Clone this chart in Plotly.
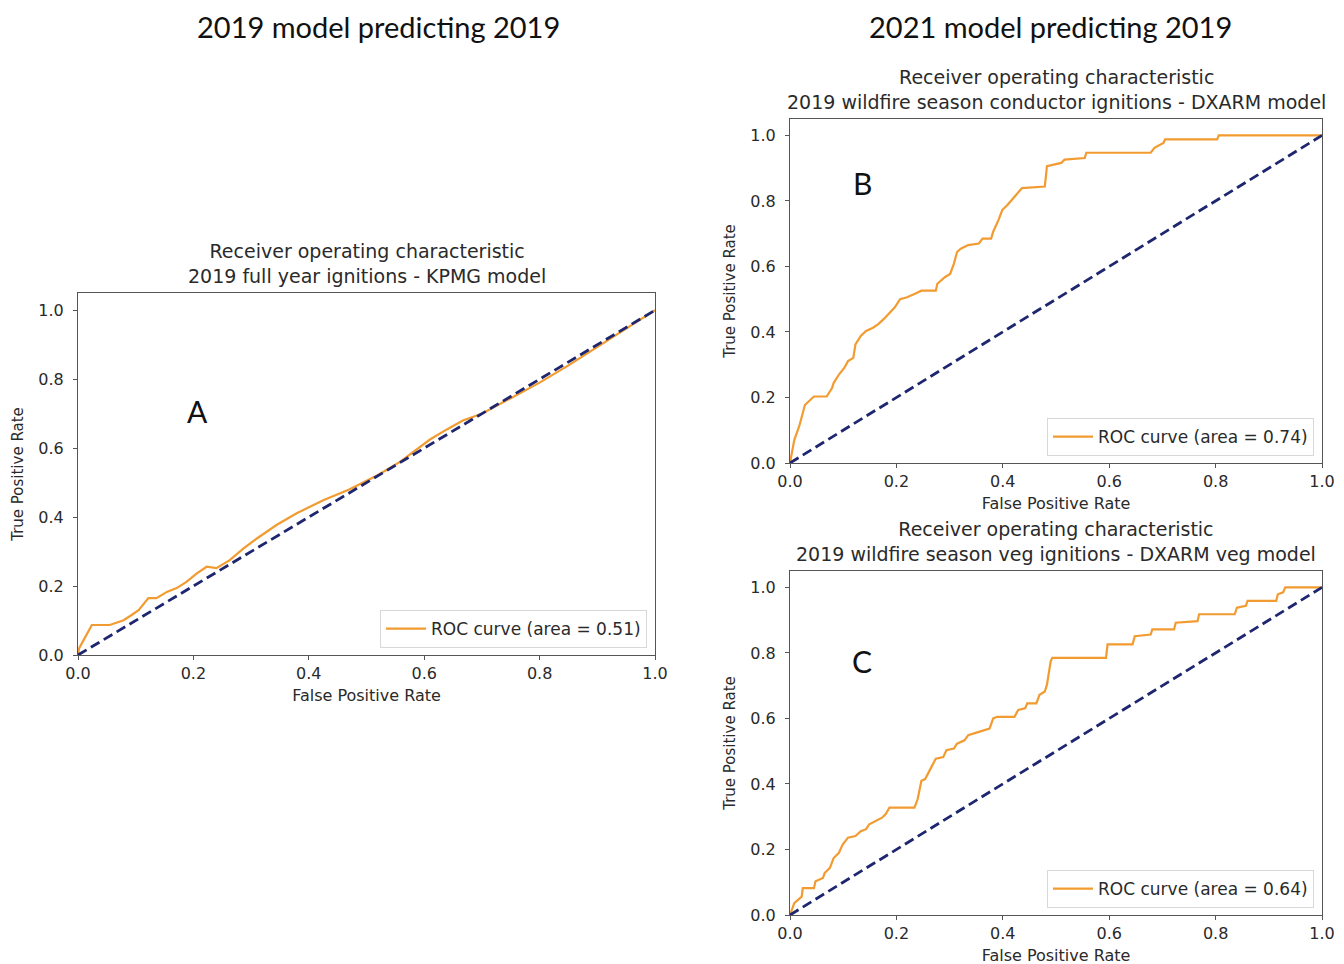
import plotly.graph_objects as go

# ---------------- data ----------------
fpr_a = [0.0, 0.002, 0.009, 0.024, 0.055, 0.079, 0.093, 0.105, 0.122, 0.136, 0.154, 0.171,
         0.188, 0.206, 0.223, 0.240, 0.263, 0.287, 0.310, 0.344, 0.379, 0.425, 0.470, 0.520,
         0.558, 0.610, 0.640, 0.667, 0.700, 0.760, 0.800, 0.850, 0.930, 1.0]
tpr_a = [0.0, 0.020, 0.041, 0.087, 0.087, 0.101, 0.116, 0.130, 0.165, 0.165, 0.183, 0.194,
         0.212, 0.237, 0.256, 0.252, 0.275, 0.309, 0.338, 0.377, 0.411, 0.449, 0.480, 0.522,
         0.560, 0.625, 0.655, 0.680, 0.700, 0.755, 0.790, 0.840, 0.925, 1.0]

fpr_b = [0.0, 0.008, 0.018, 0.028, 0.032, 0.045, 0.069, 0.079, 0.082, 0.092, 0.102, 0.109,
         0.119, 0.123, 0.133, 0.143, 0.156, 0.166, 0.176, 0.187, 0.197, 0.207, 0.220, 0.234,
         0.247, 0.274, 0.277, 0.291, 0.301, 0.308, 0.314, 0.321, 0.335, 0.355, 0.362, 0.378,
         0.382, 0.392, 0.399, 0.409, 0.419, 0.436, 0.479, 0.483, 0.510, 0.516, 0.554, 0.557,
         0.678, 0.685, 0.702, 0.705, 0.803, 0.806, 1.0]
tpr_b = [0.0, 0.070, 0.116, 0.177, 0.183, 0.203, 0.203, 0.229, 0.244, 0.270, 0.290, 0.311,
         0.321, 0.362, 0.388, 0.403, 0.413, 0.424, 0.439, 0.459, 0.475, 0.500, 0.506, 0.516,
         0.526, 0.526, 0.547, 0.567, 0.577, 0.608, 0.644, 0.654, 0.665, 0.670, 0.685, 0.685,
         0.706, 0.742, 0.772, 0.788, 0.808, 0.839, 0.844, 0.906, 0.916, 0.926, 0.931, 0.947,
         0.947, 0.962, 0.977, 0.988, 0.988, 1.0, 1.0]

fpr_c = [0.0, 0.008, 0.022, 0.024, 0.045, 0.048, 0.062, 0.065, 0.075, 0.082, 0.092, 0.099,
         0.109, 0.123, 0.133, 0.143, 0.149, 0.160, 0.173, 0.180, 0.187, 0.234, 0.240, 0.247,
         0.254, 0.264, 0.274, 0.288, 0.294, 0.308, 0.314, 0.328, 0.335, 0.355, 0.375, 0.382,
         0.389, 0.422, 0.429, 0.442, 0.446, 0.463, 0.469, 0.479, 0.483, 0.490, 0.493, 0.594,
         0.597, 0.644, 0.648, 0.678, 0.681, 0.722, 0.725, 0.766, 0.769, 0.836, 0.840, 0.857,
         0.860, 0.914, 0.917, 0.927, 0.931, 1.0]
tpr_c = [0.0, 0.036, 0.056, 0.082, 0.082, 0.103, 0.113, 0.128, 0.144, 0.174, 0.190, 0.215,
         0.236, 0.241, 0.256, 0.262, 0.277, 0.287, 0.297, 0.308, 0.328, 0.328, 0.354, 0.410,
         0.415, 0.446, 0.477, 0.482, 0.503, 0.508, 0.523, 0.533, 0.549, 0.559, 0.569, 0.600,
         0.605, 0.605, 0.626, 0.631, 0.646, 0.646, 0.672, 0.682, 0.703, 0.774, 0.785, 0.785,
         0.826, 0.826, 0.851, 0.856, 0.872, 0.872, 0.892, 0.897, 0.918, 0.918, 0.938, 0.944,
         0.959, 0.959, 0.979, 0.985, 1.0, 1.0]

diag = [0.0, 1.0]
auc_labels = ["ROC curve (area = 0.51)", "ROC curve (area = 0.74)", "ROC curve (area = 0.64)"]
panel_titles = [
    "Receiver operating characteristic<br>2019 full year ignitions - KPMG model",
    "Receiver operating characteristic<br>2019 wildfire season conductor ignitions - DXARM model",
    "Receiver operating characteristic<br>2019 wildfire season veg ignitions - DXARM veg model",
]
panel_letters = ["A", "B", "C"]
super_titles = ["2019 model predicting 2019", "2021 model predicting 2019"]
tick_vals = [0.0, 0.2, 0.4, 0.6, 0.8, 1.0]

# ---------------- figure ----------------
W, H = 1344, 964
OFF = 8  # page body margin offset
ORANGE = "#F29B30"
NAVY = "#1E2670"
FONT = "DejaVu Sans"
TXT = "#2a2a2a"

# pixel boxes (left, right, top, bottom) in screenshot pixels
boxes = [(78, 655, 293, 655), (790, 1322, 119, 463), (790, 1322, 571, 915)]


def px_x(p):
    return (p - OFF) / W


def px_y(p):
    return 1 - (p - OFF) / H


fig = go.Figure()
series = [(fpr_a, tpr_a), (fpr_b, tpr_b), (fpr_c, tpr_c)]
legend_names = ["legend", "legend2", "legend3"]
for i, (fx, ty) in enumerate(series):
    xa = "x" if i == 0 else f"x{i+1}"
    ya = "y" if i == 0 else f"y{i+1}"
    fig.add_trace(go.Scatter(x=fx, y=ty, mode="lines", name=auc_labels[i],
                             line=dict(color=ORANGE, width=2.2),
                             xaxis=xa, yaxis=ya, legend=legend_names[i]))
    fig.add_trace(go.Scatter(x=diag, y=diag, mode="lines", showlegend=False,
                             line=dict(color=NAVY, width=2.8, dash="10px,5px"),
                             xaxis=xa, yaxis=ya))

layout = dict(width=W, height=H, margin=dict(l=0, r=0, t=0, b=0, autoexpand=False),
              paper_bgcolor="white", plot_bgcolor="white", showlegend=True,
              font=dict(family=FONT, color=TXT))

annotations = []
for i, (l, r, t, b) in enumerate(boxes):
    sfx = "" if i == 0 else str(i + 1)
    axcommon = dict(showline=True, linecolor="#555555", linewidth=1.2, mirror=True,
                    ticks="outside", ticklen=4, tickcolor="#555555", showgrid=False,
                    zeroline=False, tickvals=tick_vals, tickformat=".1f", automargin=False,
                    tickfont=dict(size=16, family=FONT, color=TXT))
    layout["xaxis" + sfx] = dict(axcommon, domain=[px_x(l), px_x(r)], range=[0, 1],
                                 anchor="y" + sfx,
                                 title=dict(text="False Positive Rate",
                                            font=dict(size=16, family=FONT, color=TXT),
                                            standoff=7))
    layout["yaxis" + sfx] = dict(axcommon, domain=[px_y(b), px_y(t)], range=[0, 1.05],
                                 anchor="x" + sfx, ticklabelstandoff=6,
                                 title=dict(text="True Positive Rate",
                                            font=dict(size=15, family=FONT, color=TXT),
                                            standoff=10))
    # legend
    layout[legend_names[i]] = dict(x=px_x(r - 8), y=px_y(b - 7), xanchor="right",
                                   yanchor="bottom", bgcolor="rgba(255,255,255,0.9)",
                                   bordercolor="#d8d8d8", borderwidth=1,
                                   font=dict(size=17, family=FONT, color=TXT),
                                   itemwidth=40)
    # panel title
    annotations.append(dict(text=panel_titles[i], xref="paper", yref="paper",
                            x=px_x((l + r) / 2), y=px_y(t - 4), xanchor="center",
                            yanchor="bottom", showarrow=False, align="center",
                            font=dict(size=19, family=FONT, color=TXT)))

# panel letters
letter_pos = [(197, 411), (862, 183), (862, 661)]
for i, (lx, ly) in enumerate(letter_pos):
    annotations.append(dict(text=panel_letters[i], xref="paper", yref="paper",
                            x=px_x(lx), y=px_y(ly), xanchor="center", yanchor="middle",
                            showarrow=False, font=dict(size=30, family="Lato", color="#111111")))

# super titles
for txt, cx in zip(super_titles, [378, 1050]):
    annotations.append(dict(text=txt, xref="paper", yref="paper", x=px_x(cx), y=px_y(26),
                            xanchor="center", yanchor="middle", showarrow=False,
                            font=dict(size=29, family="Lato", color="#111111")))

layout["annotations"] = annotations
fig.update_layout(**layout)
fig.write_html("out.html")
